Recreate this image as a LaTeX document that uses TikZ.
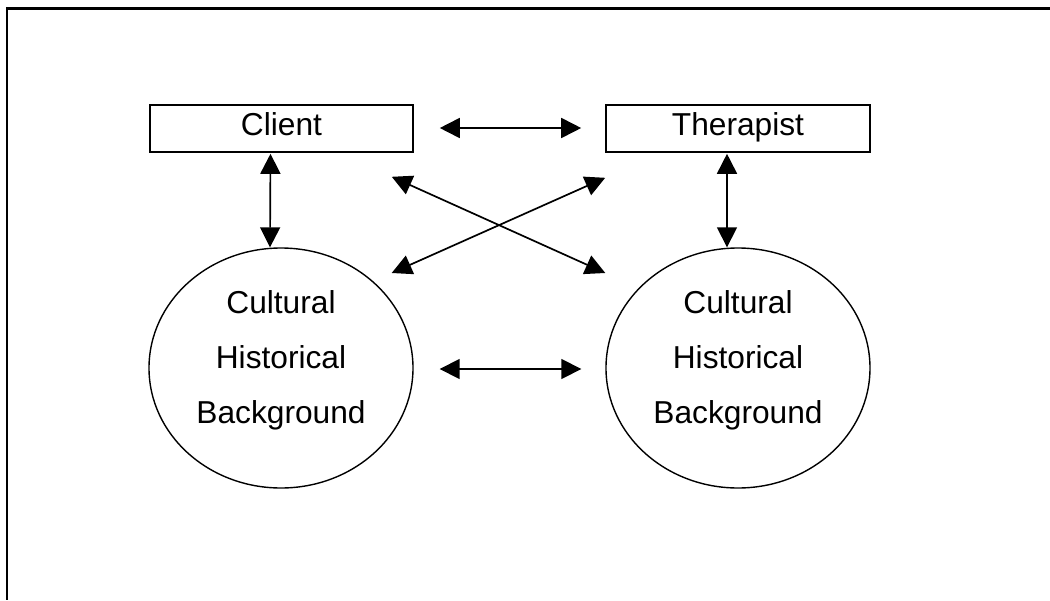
\documentclass[tikz,border=0pt]{standalone}
\usepackage{fontspec}
\setmainfont{Liberation Sans}
\usetikzlibrary{arrows.meta,shapes.geometric}
\tikzset{
  boxnode/.style={draw, line width=1.6pt, rectangle, minimum width=263pt, minimum height=47pt,
    inner sep=0pt, text depth=9pt, font=\fontsize{31.7}{37}\selectfont},
  ellnode/.style={draw, line width=1.4pt, ellipse, minimum width=264pt, minimum height=240pt,
    inner sep=0pt, align=center, font=\fontsize{31.7}{55}\selectfont},
  biarrow/.style={line width=1.7pt, {Triangle[length=20pt,width=20pt]}-{Triangle[length=20pt,width=20pt]}},
}
\begin{document}
\begin{tikzpicture}[x=1pt,y=-1pt]
\useasboundingbox (0,0) rectangle (1050,600);
% frame (open at right and bottom)
\draw[line width=2.2pt] (6,8.5) -- (1050,8.5);
\draw[line width=1.5pt] (7,8) -- (7,600);
% nodes
\node[boxnode] (client) at (281.5,128.5) {Client};
\node[boxnode, minimum width=264pt] (therapist) at (738,128.5) {Therapist};
\node[ellnode] (ellL) at (281,368) {Cultural\\Historical\\Background\rule[-22.5pt]{0pt}{1pt}};
\node[ellnode] (ellR) at (738,368) {Cultural\\Historical\\Background\rule[-22.5pt]{0pt}{1pt}};
% connectors
\draw[biarrow] ([shift={(26,-0.5)}]client.east) -- ([shift={(-24,-0.5)}]therapist.west);
\draw[biarrow] ([shift={(26,1)}]ellL.east) -- ([shift={(-24,1)}]ellR.west);
\draw[biarrow] ([shift={(-11,1)}]client.south) -- ([shift={(-11,0)}]ellL.north);
\draw[biarrow] ([shift={(-11,1)}]therapist.south) -- ([shift={(-11,0)}]ellR.north);
\draw[biarrow] ([shift={(-22,24)}]client.south east) -- ([shift={(0,-95)}]ellR.west);
\draw[biarrow] ([shift={(0,25)}]therapist.south west) -- ([shift={(-22,-95)}]ellL.east);
\end{tikzpicture}
\end{document}
